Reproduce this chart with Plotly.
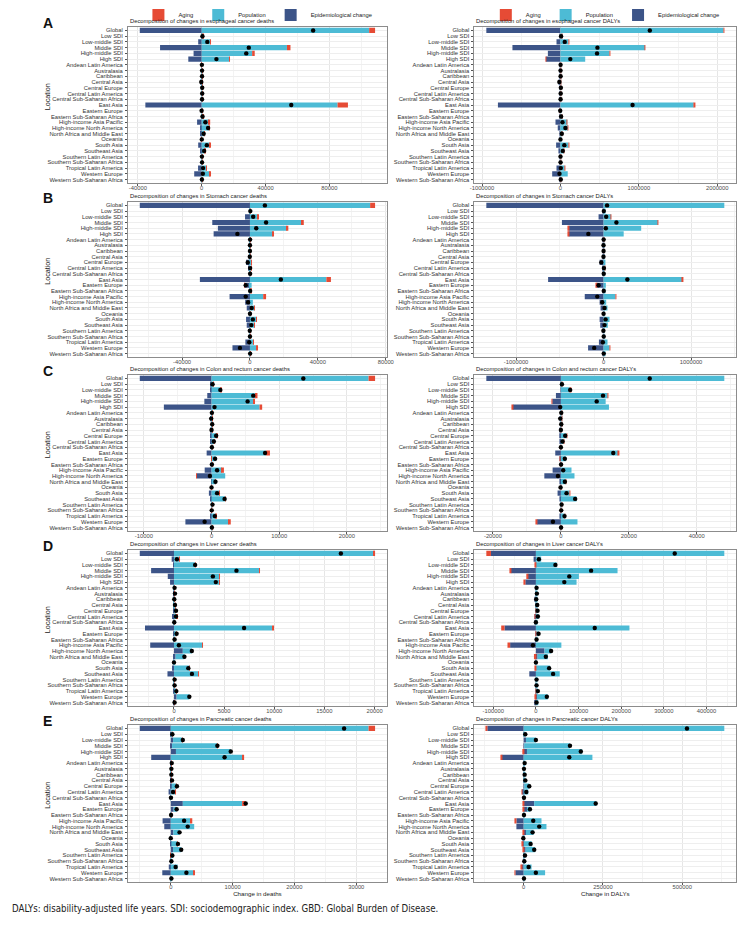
import plotly.graph_objects as go

locations = ["Global", "Low SDI", "Low-middle SDI", "Middle SDI", "High-middle SDI", "High SDI",
             "Andean Latin America", "Australasia", "Caribbean", "Central Asia", "Central Europe",
             "Central Latin America", "Central Sub-Saharan Africa", "East Asia", "Eastern Europe",
             "Eastern Sub-Saharan Africa", "High-income Asia Pacific", "High-income North America",
             "North Africa and Middle East", "Oceania", "South Asia", "Southeast Asia",
             "Southern Latin America", "Southern Sub-Saharan Africa", "Tropical Latin America",
             "Western Europe", "Western Sub-Saharan Africa"]

components = ["Aging", "Population", "Epidemiological change"]

# ---- Esophageal cancer deaths ----
eso_deaths_aging = [3700, 50, 400, 2200, 1600, 400, 20, 60, 50, 30, 150, 100, 20, 6500, 80, 50, 800, 300, 100, 5, 300, 150, 60, 20, 150, 400, 20]
eso_deaths_pop = [104900, 800, 5300, 53400, 31600, 17300, 150, 250, 300, 300, 400, 500, 300, 85100, 250, 800, 4500, 4800, 1800, 60, 5100, 2000, 200, 300, 3000, 5100, 200]
eso_deaths_epi = [-38800, -400, -2200, -26100, -5100, -8400, -70, -100, -150, -600, -250, -300, -120, -35300, -400, -350, -2900, -1000, -600, -20, -2200, -600, -150, -120, -2300, -4700, -100]
eso_deaths_total = [69800, 450, 3500, 29500, 27900, 9200, 100, 210, 200, -270, 300, 300, 200, 56100, -70, 500, 2300, 4000, 1200, 45, 3200, 1500, 110, 200, 850, 700, 120]
eso_deaths_ticks = [-40000, 0, 40000, 80000]

# ---- Esophageal cancer DALYs ----
eso_dalys_aging = [10000, 500, 2000, 5000, 3000, -5000, 200, 300, 300, 200, 800, 500, 200, 17000, -500, 500, 1000, 1000, 500, 50, 2000, 1000, 100, 100, 500, 0, 200]
eso_dalys_pop = [2080000, 20000, 103000, 1079000, 626000, 316000, 4000, 4000, 5000, 6000, 10000, 10000, 6000, 1700000, 8000, 20000, 88000, 96000, 25000, 1500, 103000, 46000, 3000, 4000, 54500, 93000, 6000]
eso_dalys_epi = [-945000, -12000, -50000, -612000, -160000, -185000, -2000, -3000, -3000, -20000, -5000, -7000, -4000, -797000, -10000, -12000, -63000, -34000, -8000, -1000, -55000, -17000, -2000, -2000, -50000, -105000, -2000]
eso_dalys_total = [1140000, 8500, 55000, 472000, 467000, 126000, 2200, 1300, 2300, -13800, 5800, 3500, 2200, 920000, -2500, 8500, 26000, 63000, 17500, 550, 50000, 30000, 1100, 2100, 5000, -12000, 4200]
eso_dalys_ticks = [-1000000, 0, 1000000, 2000000]

# ---- Stomach cancer deaths ----
sto_deaths_aging = [2900, 20, 300, 1100, 1000, 600, 30, 20, 20, 20, 100, 200, 20, 2700, -200, 30, 1700, 0, 200, 5, 300, 100, 30, 10, 100, 600, 20]
sto_deaths_pop = [70800, 500, 4500, 30600, 21600, 13400, 300, 150, 200, 400, 900, 900, 300, 45000, 1000, 600, 7800, 1700, 2700, 50, 3700, 2600, 200, 150, 2200, 3800, 500]
sto_deaths_epi = [-64900, -300, -2900, -22200, -18900, -21400, -250, -170, -220, -520, -2300, -1000, -220, -29500, -3300, -530, -12000, -2800, -1900, -40, -2300, -1900, -330, -160, -2700, -10300, -420]
sto_deaths_total = [8800, 220, 1900, 9500, 3700, -7400, 80, 0, 0, -100, -1300, 100, 100, 18200, -2500, 100, -2500, -1100, 1000, 15, 1700, 800, -100, 0, -400, -5900, 100]
sto_deaths_ticks = [-40000, 0, 40000, 80000]

# ---- Stomach cancer DALYs ----
sto_dalys_aging = [0, 0, 1000, 2000, -5000, -5000, 100, 0, 100, 0, 0, 1000, 0, 8000, -3000, 0, 7000, 0, 0, 0, 0, 0, 0, 0, 0, 2000, 0]
sto_dalys_pop = [1380000, 12000, 86000, 621000, 430000, 230000, 5000, 2000, 3000, 8000, 19000, 19000, 6000, 898000, 26000, 12000, 136000, 30000, 45000, 1000, 68000, 49000, 3000, 3000, 45000, 68000, 10000]
sto_dalys_epi = [-1340000, -9000, -57000, -476000, -399000, -399000, -4000, -2500, -3000, -9000, -45000, -16000, -4000, -634000, -80000, -10000, -215000, -45000, -34000, -1000, -45000, -38000, -5000, -1000, -53000, -177000, -8000]
sto_dalys_total = [40000, 3000, 30000, 147000, 26000, -174000, 1100, -500, 100, -1000, -26000, 4000, 2000, 272000, -57000, 2000, -72000, -15000, 11000, 0, 23000, 11000, -2000, 2000, -8000, -107000, 2000]
sto_dalys_ticks = [-1000000, 0, 1000000]

# ---- Colon and rectum cancer deaths ----
crc_deaths_aging = [960, 10, 100, 290, 190, 390, 5, 20, 10, 5, 30, 20, 2, 580, -20, 5, 290, -80, 20, 1, 100, 50, 10, 2, 20, 290, 3]
crc_deaths_pop = [23200, 250, 1350, 6500, 6200, 7090, 100, 150, 150, 100, 800, 450, 80, 8050, 600, 100, 1540, 2020, 620, 15, 1110, 2070, 200, 50, 650, 2550, 80]
crc_deaths_epi = [-10600, -110, -150, -630, -1060, -7040, -55, -220, -60, -105, -150, -130, -32, -720, -50, -55, -1010, -2180, -60, -16, -390, -190, -70, -22, -190, -3860, -33]
crc_deaths_total = [13560, 150, 1300, 6160, 5330, 440, 50, -50, 100, 0, 680, 340, 50, 7910, 530, 50, 820, -240, 580, 0, 820, 1930, 140, 30, 480, -1020, 50]
crc_deaths_ticks = [-10000, 0, 10000, 20000]

# ---- Colon and rectum cancer DALYs ----
crc_dalys_aging = [0, 20, 50, 100, -100, -200, 10, 10, 10, 5, 50, 30, 2, 200, -50, 5, 0, 0, 30, 1, 100, 0, 10, 3, 30, -200, 2]
crc_dalys_pop = [48120, 400, 2780, 13760, 13180, 14150, 200, 200, 200, 150, 1700, 780, 80, 16880, 1470, 150, 3120, 4000, 1470, 30, 2540, 4590, 300, 150, 1300, 4880, 80]
crc_dalys_epi = [-21960, -120, -100, -1460, -2540, -14150, -110, -410, -110, -155, -480, -320, -82, -1660, -250, -105, -2440, -4880, -330, -131, -980, -390, -110, -53, -260, -7020, -32]
crc_dalys_total = [26160, 300, 2730, 12400, 10540, -200, 100, -200, 100, 0, 1270, 490, 0, 15420, 1170, 50, 680, -880, 1170, -100, 1660, 4200, 200, 100, 1070, -2340, 50]
crc_dalys_ticks = [-20000, 0, 20000, 40000]

# ---- Liver cancer deaths ----
liv_deaths_aging = [130, 10, 30, 30, 10, 10, 2, 3, 2, 3, 10, 10, 1, 100, 10, 2, 30, 0, 0, 0, 20, 20, 2, 2, 5, 0, 1]
liv_deaths_pop = [19920, 510, 2110, 8480, 4490, 4550, 80, 80, 60, 120, 150, 300, 50, 9780, 150, 90, 2830, 900, 880, 10, 1570, 2420, 60, 80, 180, 1270, 40]
liv_deaths_epi = [-3410, -230, -30, -2280, -620, -390, -22, 17, -32, -23, 40, -110, -21, -2890, 100, -32, -2370, 880, 160, -10, -160, -650, -2, -22, 45, 260, 19]
liv_deaths_total = [16640, 290, 2110, 6230, 3880, 4170, 60, 100, 30, 100, 200, 200, 30, 6990, 260, 60, 490, 1780, 1040, 0, 1430, 1790, 60, 60, 230, 1530, 60]
liv_deaths_ticks = [0, 5000, 10000, 15000, 20000]

# ---- Liver cancer DALYs ----
liv_dalys_aging = [-10850, 0, -3000, -3100, -3100, -3900, 0, 0, 0, 0, -300, -300, 0, -7750, -500, 0, -6200, 0, -4600, 0, -2300, 0, 0, 0, -300, -2300, 0]
liv_dalys_pop = [441750, 12400, 48800, 191400, 100800, 95300, 2500, 2000, 2000, 3500, 4000, 6900, 1500, 219300, 5500, 2500, 59700, 15500, 24000, 500, 33300, 55800, 1500, 2000, 4000, 25600, 5400]
liv_dalys_epi = [-105400, -5400, -100, -58900, -19400, -24800, -1000, 300, -1200, -400, 200, -2000, -1500, -73600, 1200, -1000, -60450, 20150, 3900, -500, 0, -15500, 0, -500, 900, 2300, -3900]
liv_dalys_total = [325500, 7000, 45700, 129400, 78300, 66600, 1500, 2300, 800, 3100, 3900, 4600, 0, 137950, 6200, 1500, -6950, 35650, 23300, 0, 31000, 40300, 1500, 1500, 4600, 25600, 1500]
liv_dalys_ticks = [-100000, 0, 100000, 200000, 300000, 400000]

# ---- Pancreatic cancer deaths ----
pan_deaths_aging = [1050, 5, 10, 60, 0, 320, 3, 5, 3, 3, 10, 10, 1, 580, 0, 1, 370, 0, 0, 0, 10, 0, -20, 1, 0, 210, 1]
pan_deaths_pop = [31990, 180, 1570, 7270, 8860, 11540, 100, 100, 80, 120, 840, 710, 20, 9590, 480, 40, 3110, 3790, 1000, 5, 1050, 1320, 200, 60, 1110, 3690, 60]
pan_deaths_epi = [-5010, 75, 370, 210, 840, -3160, 57, -5, 17, 77, 150, -350, 9, 1950, 470, 9, -1320, -1050, 420, -5, 100, 370, 80, 39, -320, -1370, 39]
pan_deaths_total = [28030, 260, 1950, 7540, 9700, 8700, 160, 100, 100, 200, 1000, 370, 30, 12120, 950, 50, 2160, 2740, 1420, 0, 1160, 1690, 260, 100, 790, 2530, 100]
pan_deaths_ticks = [0, 10000, 20000, 30000]

# ---- Pancreatic cancer DALYs ----
pan_dalys_aging = [-3100, 0, 0, 0, -4200, -3100, 0, 0, 0, 0, 0, -1000, 0, -2000, -1000, 0, -3100, 0, -3200, 0, -2000, -3000, 0, 0, -3000, -3100, 0]
pan_dalys_pop = [632500, 4000, 31200, 143900, 174000, 216700, 2000, 1500, 2000, 3000, 15700, 14500, 800, 195900, 10400, 800, 56200, 71900, 24000, 500, 26000, 30000, 3000, 1500, 24900, 67600, 800]
pan_dalys_epi = [-114600, 1200, 7300, 2000, 10400, -69800, 1100, -500, 1100, 2200, 2000, -5200, 200, 33300, 10400, 200, -22900, -22900, 7300, -1500, -2100, 6300, 1200, 500, -6300, -26000, 200]
pan_dalys_total = [514800, 5200, 38500, 145900, 180200, 143800, 3100, 1000, 3100, 5200, 17700, 8300, 1000, 227200, 19800, 1000, 30200, 49000, 28100, -1000, 21900, 33300, 4200, 2000, 15600, 38500, 1000]
pan_dalys_ticks = [0, 250000, 500000]

panel_titles = [
    "Decomposition of changes in esophageal cancer deaths",
    "Decomposition of changes in esophageal cancer DALYs",
    "Decomposition of changes in Stomach cancer deaths",
    "Decomposition of changes in Stomach cancer DALYs",
    "Decomposition of changes in Colon and rectum cancer deaths",
    "Decomposition of changes in Colon and rectum cancer DALYs",
    "Decomposition of changes in Liver cancer deaths",
    "Decomposition of changes in Liver cancer DALYs",
    "Decomposition of changes in Pancreatic cancer deaths",
    "Decomposition of changes in Pancreatic cancer DALYs",
]
panel_letters = ["A", "B", "C", "D", "E"]

panels = [
    (eso_deaths_aging, eso_deaths_pop, eso_deaths_epi, eso_deaths_total, eso_deaths_ticks),
    (eso_dalys_aging, eso_dalys_pop, eso_dalys_epi, eso_dalys_total, eso_dalys_ticks),
    (sto_deaths_aging, sto_deaths_pop, sto_deaths_epi, sto_deaths_total, sto_deaths_ticks),
    (sto_dalys_aging, sto_dalys_pop, sto_dalys_epi, sto_dalys_total, sto_dalys_ticks),
    (crc_deaths_aging, crc_deaths_pop, crc_deaths_epi, crc_deaths_total, crc_deaths_ticks),
    (crc_dalys_aging, crc_dalys_pop, crc_dalys_epi, crc_dalys_total, crc_dalys_ticks),
    (liv_deaths_aging, liv_deaths_pop, liv_deaths_epi, liv_deaths_total, liv_deaths_ticks),
    (liv_dalys_aging, liv_dalys_pop, liv_dalys_epi, liv_dalys_total, liv_dalys_ticks),
    (pan_deaths_aging, pan_deaths_pop, pan_deaths_epi, pan_deaths_total, pan_deaths_ticks),
    (pan_dalys_aging, pan_dalys_pop, pan_dalys_epi, pan_dalys_total, pan_dalys_ticks),
]

# ---- styling ----
W, H = 756, 925
COLORS = {"Aging": "#E64B35", "Population": "#4DBBD5", "Epidemiological change": "#3C5488"}
RANK = {"Aging": 1, "Population": 2, "Epidemiological change": 3}
FONT = "Arial, Liberation Sans, Helvetica, sans-serif"
col_px = [(125, 388), (477, 743)]
row_px = [(27, 183), (202, 357), (375, 531), (550, 706), (725, 882)]


def px_x(p):
    return p / W


def px_y(p):
    return 1 - p / H


fig = go.Figure()
layout = dict(
    width=W, height=H, autosize=False,
    margin=dict(l=0, r=0, t=0, b=0),
    paper_bgcolor="white", plot_bgcolor="white",
    barmode="relative", bargap=0.1,
    font=dict(family=FONT, size=6, color="#222"),
)
annotations = []

for k, (aging, pop, epi, total, ticks) in enumerate(panels):
    r, c = divmod(k, 2)
    s = "" if k == 0 else str(k + 1)
    xa, ya = "x" + s, "y" + s
    leg = "legend" if c == 0 else "legend2"
    for name, vals in (("Epidemiological change", epi), ("Population", pop), ("Aging", aging)):
        fig.add_trace(go.Bar(
            x=vals, y=locations, orientation="h", name=name,
            marker=dict(color=COLORS[name], line=dict(width=0)),
            xaxis=xa, yaxis=ya, legend=leg, legendrank=RANK[name],
            legendgroup=name + str(c), showlegend=(r == 0),
        ))
    fig.add_trace(go.Scatter(
        x=total, y=locations, mode="markers", name="Total change",
        marker=dict(color="black", size=4.4), xaxis=xa, yaxis=ya, showlegend=False,
    ))

    pos = [sum(v for v in t if v > 0) for t in zip(aging, pop, epi)]
    neg = [sum(v for v in t if v < 0) for t in zip(aging, pop, epi)]
    lo = min(min(neg), min(total), 0)
    hi = max(max(pos), max(total), 0)
    pad = 0.05 * (hi - lo)
    step = ticks[1] - ticks[0]
    minor_vals = [ticks[0] - step / 2] + [t + step / 2 for t in ticks]

    x0, x1 = col_px[c]
    y0, y1 = row_px[r]
    xaxis = dict(
        domain=[px_x(x0), px_x(x1)], anchor=ya, range=[lo - pad, hi + pad],
        tickmode="array", tickvals=ticks, ticktext=[str(t) for t in ticks],
        tickfont=dict(size=5.8, color="#4D4D4D", family=FONT),
        ticks="outside", ticklen=2, tickwidth=0.6, tickcolor="#555",
        ticklabelstandoff=-3,
        showgrid=True, gridcolor="#E6E6E6", gridwidth=0.6, zeroline=False,
        minor=dict(tickmode="array", tickvals=minor_vals, showgrid=True,
                   gridcolor="#F3F3F3", gridwidth=0.5, ticks=""),
        showline=True, mirror=True, linecolor="#8C8C8C", linewidth=1,
        fixedrange=True,
    )
    if r == 4:
        xaxis["title"] = dict(text="Change in deaths" if c == 0 else "Change in DALYs",
                              font=dict(size=6.2, color="#222", family=FONT), standoff=0)
    yaxis = dict(
        domain=[px_y(y1), px_y(y0)], anchor=xa, type="category",
        categoryorder="array", categoryarray=locations, range=[26.6, -0.6],
        tickmode="array", tickvals=locations, ticktext=locations,
        tickfont=dict(size=5.8, color="#333", family=FONT),
        ticks="outside", ticklen=2, tickwidth=0.6, tickcolor="#555",
        ticklabelstandoff=1,
        showgrid=True, gridcolor="#EEEEEE", gridwidth=0.5,
        showline=True, mirror=True, linecolor="#8C8C8C", linewidth=1,
        fixedrange=True,
    )
    layout["xaxis" + s] = xaxis
    layout["yaxis" + s] = yaxis

    annotations.append(dict(
        text=panel_titles[k], x=px_x(x0), y=px_y(y0 - 1), xref="paper", yref="paper",
        xanchor="left", yanchor="bottom", showarrow=False,
        font=dict(size=5.8, color="#222", family=FONT),
    ))
    if c == 0:
        annotations.append(dict(
            text="<b>%s</b>" % panel_letters[r], x=px_x(37), y=px_y(y0 - 4),
            xref="paper", yref="paper", xanchor="left", yanchor="middle", showarrow=False,
            font=dict(size=14, color="#111", family=FONT),
        ))
        annotations.append(dict(
            text="Location", x=px_x(43), y=px_y((y0 + y1) / 2 - 8), xref="paper", yref="paper",
            xanchor="center", yanchor="middle", textangle=-90, showarrow=False,
            font=dict(size=7.2, color="#222", family=FONT),
        ))

annotations.append(dict(
    text="DALYs: disability-adjusted life years. SDI: sociodemographic index. GBD: Global Burden of Disease.",
    x=px_x(5), y=px_y(908), xref="paper", yref="paper", xanchor="left", yanchor="middle",
    showarrow=False,
    font=dict(size=9.6, color="#222", family="Liberation Sans Narrow, DejaVu Sans Condensed, sans-serif"),
))

legend_common = dict(
    orientation="h", yanchor="middle", y=px_y(15), xanchor="center",
    font=dict(size=5.8, color="#222", family=FONT), itemwidth=30,
    bgcolor="rgba(0,0,0,0)", traceorder="normal", itemclick=False, itemdoubleclick=False,
)
layout["legend"] = dict(legend_common, x=px_x(257))
layout["legend2"] = dict(legend_common, x=px_x(610))
layout["annotations"] = annotations

fig.update_layout(**layout)
fig.write_html("out.html")
